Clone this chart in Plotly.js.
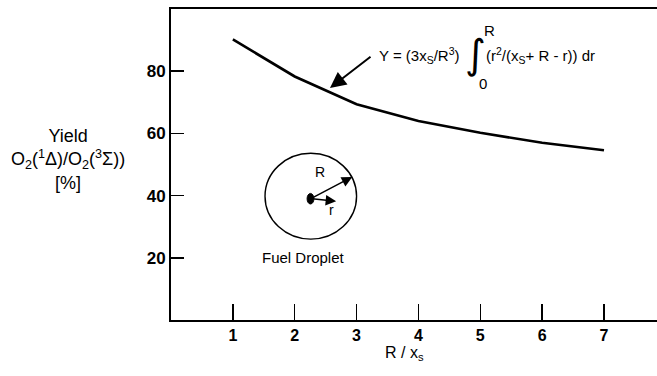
<!DOCTYPE html>
<html>
<head>
<meta charset="utf-8">
<script src="https://cdn.plot.ly/plotly-3.0.1.min.js"></script>
<style>html,body{margin:0;padding:0;background:#fff;}#chart{width:657px;height:376px;}</style>
</head>
<body>
<div id="chart"></div>
<script>
// Data
const ratio = [1, 2, 3, 4, 5, 6, 7];               // R / x_s
const yieldPct = [90.2, 78.3, 69.4, 64.0, 60.2, 57.0, 54.6]; // Yield [%]
const xTickVals = [1, 2, 3, 4, 5, 6, 7];
const yTickVals = [20, 40, 60, 80];

const FONT = 'Liberation Sans, Arial, Helvetica, sans-serif';

const trace = {
  x: ratio, y: yieldPct, type: 'scatter', mode: 'lines',
  line: {color: '#000', width: 2.6}, hoverinfo: 'skip', showlegend: false
};

const layout = {
  width: 657, height: 376,
  margin: {l: 171, r: 0, t: 9, b: 56},
  paper_bgcolor: '#fff', plot_bgcolor: '#fff',
  font: {family: FONT, color: '#000'},
  xaxis: {
    range: [0, 7.857], showgrid: false, zeroline: false,
    showline: true, linewidth: 2, linecolor: '#000', mirror: true,
    ticks: 'inside', ticklen: 16, tickwidth: 1.5, tickcolor: '#000',
    tickvals: xTickVals, ticktext: xTickVals.map(String),
    tickfont: {family: FONT, size: 16, color: '#000', weight: 'bold'}
  },
  yaxis: {
    range: [0, 100], showgrid: false, zeroline: false,
    showline: true, linewidth: 2, linecolor: '#000',
    ticks: 'inside', ticklen: 13, tickwidth: 1.5, tickcolor: '#000',
    tickvals: yTickVals, ticktext: yTickVals.map(String),
    tickfont: {family: FONT, size: 17, color: '#000', weight: 'bold'}
  },
  shapes: [
    {type: 'circle', xref: 'x', yref: 'y', x0: 1.52, x1: 3.0, y0: 26.0, y1: 53.6,
     line: {color: '#000', width: 1.4}},
    {type: 'circle', xref: 'x', yref: 'y', x0: 2.2, x1: 2.31, y0: 37.3, y1: 40.7,
     fillcolor: '#000', line: {color: '#000', width: 1}}
  ],
  annotations: [
    // y-axis title
    {xref: 'paper', yref: 'paper', x: -0.212, y: 0.515, xanchor: 'center', yanchor: 'middle',
     text: 'Yield<br>O<sub>2</sub>(<sup>1</sup>Δ)/O<sub>2</sub>(<sup>3</sup>Σ))<br>[%]',
     showarrow: false, align: 'center', font: {family: FONT, size: 18, color: '#000'}},
    // x-axis title
    {xref: 'x', yref: 'paper', x: 3.78, y: -0.108, xanchor: 'center', yanchor: 'middle',
     text: 'R / x<sub>s</sub>', showarrow: false, font: {family: FONT, size: 16, color: '#000'}},
    // formula arrow
    {xref: 'x', yref: 'y', axref: 'x', ayref: 'y', x: 2.57, y: 74.6, ax: 3.25, ay: 85.0,
     text: '', showarrow: true, arrowhead: 2, arrowsize: 1.6, arrowwidth: 2, arrowcolor: '#000'},
    // formula pieces
    {xref: 'x', yref: 'y', x: 3.33, y: 85.0, xanchor: 'left', yanchor: 'middle',
     text: 'Y = (3x<sub>S</sub>/R<sup>3</sup>)', showarrow: false, font: {family: FONT, size: 15, color: '#000'}},
    {xref: 'x', yref: 'y', x: 4.93, y: 85.5, xanchor: 'center', yanchor: 'middle',
     text: '∫', showarrow: false, font: {family: 'DejaVu Sans, sans-serif', size: 40, color: '#000'}},
    {xref: 'x', yref: 'y', x: 5.03, y: 93.0, xanchor: 'left', yanchor: 'middle',
     text: 'R', showarrow: false, font: {family: FONT, size: 15, color: '#000'}},
    {xref: 'x', yref: 'y', x: 4.95, y: 76.0, xanchor: 'left', yanchor: 'middle',
     text: '0', showarrow: false, font: {family: FONT, size: 15, color: '#000'}},
    {xref: 'x', yref: 'y', x: 5.06, y: 85.0, xanchor: 'left', yanchor: 'middle',
     text: '(r<sup>2</sup>/(x<sub>S</sub>+ R - r)) dr', showarrow: false, font: {family: FONT, size: 15, color: '#000'}},
    // inset: droplet arrows and labels
    {xref: 'x', yref: 'y', axref: 'x', ayref: 'y', x: 2.93, y: 46.0, ax: 2.26, ay: 39.0,
     text: '', showarrow: true, arrowhead: 2, arrowsize: 1.4, arrowwidth: 1.5, arrowcolor: '#000'},
    {xref: 'x', yref: 'y', axref: 'x', ayref: 'y', x: 2.67, y: 38.2, ax: 2.26, ay: 39.0,
     text: '', showarrow: true, arrowhead: 2, arrowsize: 1.4, arrowwidth: 1.5, arrowcolor: '#000'},
    {xref: 'x', yref: 'y', x: 2.41, y: 47.6, xanchor: 'center', yanchor: 'middle',
     text: 'R', showarrow: false, font: {family: FONT, size: 14, color: '#000'}},
    {xref: 'x', yref: 'y', x: 2.6, y: 35.3, xanchor: 'center', yanchor: 'middle',
     text: 'r', showarrow: false, font: {family: FONT, size: 14, color: '#000'}},
    {xref: 'x', yref: 'y', x: 2.14, y: 20.2, xanchor: 'center', yanchor: 'middle',
     text: 'Fuel Droplet', showarrow: false, font: {family: FONT, size: 15, color: '#000'}}
  ]
};

Plotly.newPlot('chart', [trace], layout, {displayModeBar: false, staticPlot: true});
</script>
</body>
</html>
